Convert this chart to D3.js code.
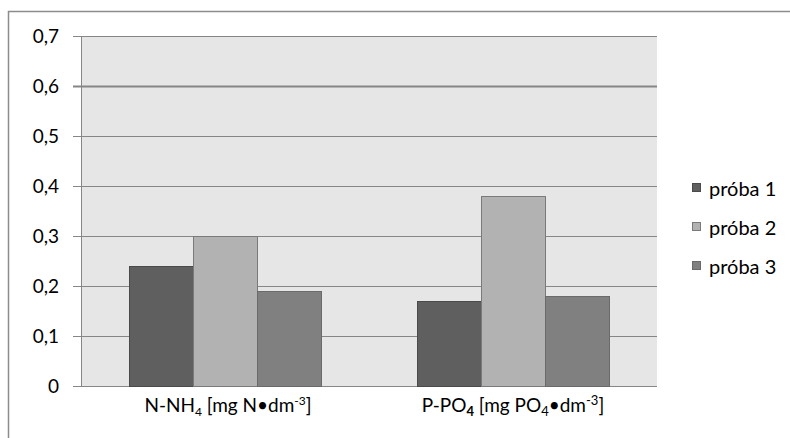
<!DOCTYPE html>
<html><head><meta charset="utf-8">
<script src="https://cdn.jsdelivr.net/npm/d3@7"></script>
<style>
body{margin:0;background:#fff;}
text{font-family:Lato,"Open Sans",sans-serif;fill:#000;}
</style></head>
<body><svg id="c" width="790" height="438"></svg>
<script>
const categories = ["N-NH4","P-PO4"];
const series = ["próba 1","próba 2","próba 3"];
const proba1 = [0.24, 0.17];
const proba2 = [0.30, 0.38];
const proba3 = [0.19, 0.18];
const yTicks = [0,0.1,0.2,0.3,0.4,0.5,0.6,0.7];
const colors = ["#5f5f5f","#b2b2b2","#808080"];
const strokes = ["#4a4a4a","#7a7a7a","#6a6a6a"];
const values = [proba1, proba2, proba3];

const svg = d3.select("#c");
svg.append("rect").attr("x",8.5).attr("y",11.5).attr("width",800).attr("height",500)
  .attr("fill","none").attr("stroke","#8c8c8c").attr("stroke-width",1.5);

const L=81, R=657, T=36, B=386;
const x = d3.scaleBand().domain(categories).range([L,R]).paddingInner(1/3).paddingOuter(1/6);
const xs = d3.scaleBand().domain(series).range([0,x.bandwidth()]);
const y = d3.scaleLinear().domain([0,0.7]).range([B,T]);

svg.append("rect").attr("x",L).attr("y",T).attr("width",R-L).attr("height",B-T).attr("fill","#e6e6e6");

svg.append("g").selectAll("line").data(yTicks).join("line")
  .attr("x1",73).attr("x2",R).attr("y1",d=>Math.round(y(d))+0.5).attr("y2",d=>Math.round(y(d))+0.5)
  .attr("stroke","#868686").attr("stroke-width",d=>Math.abs(d-0.6)<1e-9?2:1);

const fmt = d => d===0 ? "0" : d3.format(".1f")(d).replace(".",",");
svg.append("g").selectAll("text").data(yTicks).join("text")
  .attr("x",59).attr("y",d=>y(d)).attr("dy","0.36em").attr("text-anchor","end")
  .attr("font-size",19).text(fmt);

svg.append("line").attr("x1",L+0.5).attr("x2",L+0.5).attr("y1",T).attr("y2",B).attr("stroke","#868686");

series.forEach((s,i)=>{
  svg.append("g").selectAll("rect").data(categories).join("rect")
    .attr("x",c=>x(c)+xs(s)+0.5).attr("width",xs.bandwidth())
    .attr("y",(c,j)=>y(values[i][j])+0.5).attr("height",(c,j)=>B-y(values[i][j]))
    .attr("fill",colors[i]).attr("stroke",strokes[i]);
});

const lab = svg.append("g").attr("font-size",19);
const t1 = lab.append("text").attr("x",x("N-NH4")+x.bandwidth()/2+3).attr("y",412).attr("text-anchor","middle");
t1.append("tspan").text("N-NH");
t1.append("tspan").attr("font-size",12).attr("dy",4).text("4");
t1.append("tspan").attr("dy",-4).text(" [mg N•dm");
t1.append("tspan").attr("font-size",12).attr("dy",-7).text("-3");
t1.append("tspan").attr("dy",7).text("]");
const t2 = lab.append("text").attr("x",x("P-PO4")+x.bandwidth()/2).attr("y",412).attr("text-anchor","middle");
t2.append("tspan").text("P-PO");
t2.append("tspan").attr("font-size",13).attr("dy",4).attr("font-weight","bold").text("4");
t2.append("tspan").attr("dy",-4).text(" [mg PO");
t2.append("tspan").attr("font-size",13).attr("dy",4).text("4");
t2.append("tspan").attr("dy",-4).text("•dm");
t2.append("tspan").attr("font-size",13).attr("dy",-7).text("-3");
t2.append("tspan").attr("dy",7).text("]");

const lg = svg.append("g");
series.forEach((s,i)=>{
  const cy = 190 + i*39;
  lg.append("rect").attr("x",692.5).attr("y",cy-6.5).attr("width",8).attr("height",8)
    .attr("fill",colors[i]).attr("stroke",strokes[i]);
  lg.append("text").attr("x",709).attr("y",cy).attr("dy","0.32em").attr("font-size",20).text(s);
});
</script></body></html>
